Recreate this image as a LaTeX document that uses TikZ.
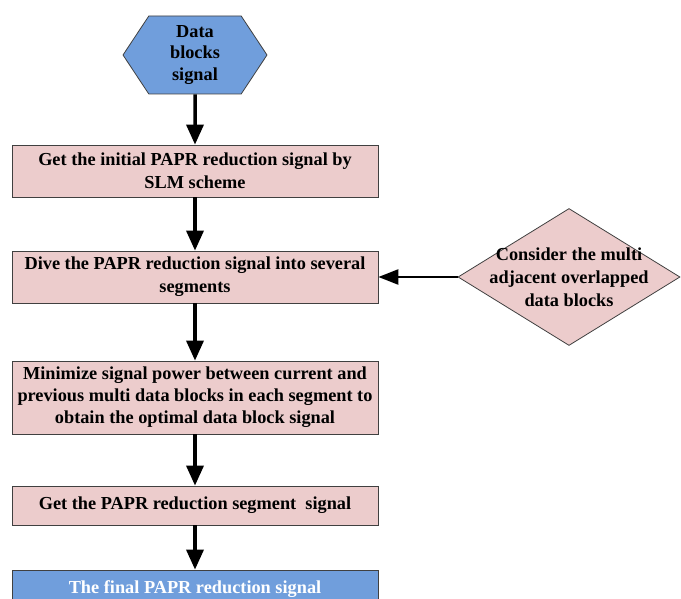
\documentclass[tikz,border=0pt]{standalone}
\usepackage{fontspec}
\setmainfont{Liberation Serif}
\usetikzlibrary{shapes.geometric,shapes.symbols,arrows.meta}
\definecolor{boxpink}{RGB}{236,204,204}
\definecolor{boxblue}{RGB}{112,158,220}
\definecolor{edgegray}{RGB}{64,64,64}
\newcommand{\flattext}[1]{\smash{\raisebox{-6pt}{\makebox[0pt]{\begin{tabular}{@{}c@{}}#1\end{tabular}}}}}
\tikzset{
  stepbox/.style={draw=edgegray, line width=0.8pt, fill=boxpink, minimum width=366pt,
    inner sep=0pt, align=center, font=\fontsize{18.3}{23}\selectfont\bfseries},
  flow/.style={line width=3.5pt, -{Triangle[length=20pt,width=17pt]}},
}

\begin{document}
\begin{tikzpicture}[x=1pt,y=-1pt]
\useasboundingbox (0,0) rectangle (681,599);

\node[signal, signal to=west and east, signal pointer angle=113, draw=edgegray, line width=0.8pt,
  fill=boxblue, minimum width=144pt, minimum height=78pt, inner sep=0pt, align=center,
  font=\fontsize{18.3}{21.5}\selectfont\bfseries] (data) at (195,55) {Data\\blocks\\signal};
\node[stepbox, minimum height=52pt] (init) at (195,171) {Get the initial PAPR reduction signal by\\SLM scheme};
\node[stepbox, minimum height=52pt] (dive) at (195,277) {Dive the PAPR reduction signal into several\\segments};
\node[stepbox, minimum height=73pt, font=\fontsize{18.3}{22}\selectfont\bfseries] (mini) at (195,397.5)
  {Minimize signal power between current and\\previous multi data blocks in each segment to\\obtain the optimal data block signal};
\node[stepbox, minimum height=39pt] (seg) at (195,505.5) {Get the PAPR reduction segment\ \ signal};
\node[stepbox, minimum height=39pt, fill=boxblue, text=white] (final) at (195,589.5) {The final PAPR reduction signal};
\node[diamond, draw=edgegray, line width=0.8pt, fill=boxpink, minimum width=222pt, minimum height=137pt,
  inner sep=0pt, font=\fontsize{18.3}{23}\selectfont\bfseries] (multi) at (569,277)
  {\flattext{Consider the multi\\adjacent overlapped\\data blocks}};

% flow of the steps
\foreach \a/\b in {data/init,init/dive,dive/mini,mini/seg,seg/final}
  \draw[flow] (\a) -- (\b);
\draw[flow, line width=2.5pt, -{Triangle[length=20pt,width=15pt]}] (multi.west) -- (dive.east);
\end{tikzpicture}
\end{document}
